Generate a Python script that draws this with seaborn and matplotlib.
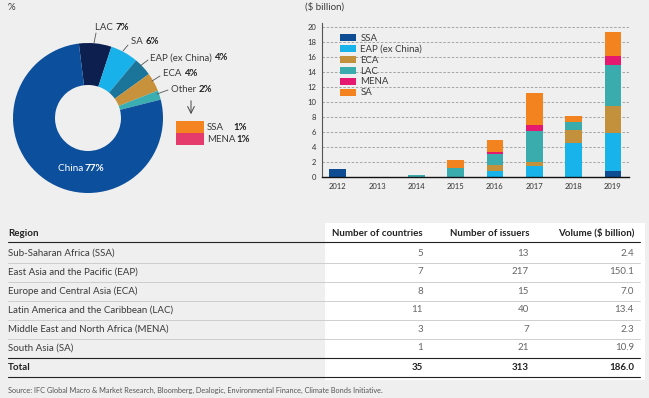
import numpy as np
import pandas as pd
import seaborn as sns
import matplotlib.pyplot as plt
from matplotlib.patches import Patch, Rectangle
from matplotlib.lines import Line2D

# ---- data ----
pie_labels = ["LAC", "SA", "EAP (ex China)", "ECA", "Other", "China"]
pie_values = [7, 6, 4, 4, 2, 77]
pie_colors = ["#0c1f4f", "#18b1e9", "#1b7499", "#c8913b", "#3aaeb1", "#0b4f9d"]
other_labels = ["SSA", "MENA"]
other_values = [1, 1]
other_colors = ["#f3841f", "#e43a6c"]

years = [2012, 2013, 2014, 2015, 2016, 2017, 2018, 2019]
ssa = [1.1, 0, 0, 0, 0, 0, 0, 0.8]
eap = [0, 0, 0, 0, 0.8, 1.45, 4.6, 5.1]
eca = [0, 0, 0, 0, 0.75, 0.55, 1.7, 3.6]
lac = [0, 0, 0.3, 1.15, 1.55, 4.15, 1.0, 5.45]
mena = [0, 0, 0, 0, 0.2, 0.75, 0, 1.2]
sa = [0, 0, 0, 1.15, 1.6, 4.3, 0.8, 3.2]
bar_regions = ["SSA", "EAP (ex China)", "ECA", "LAC", "MENA", "SA"]
bar_colors = ["#0e4d94", "#17b3ea", "#c3913c", "#3aacae", "#e5196f", "#f3831f"]

tbl_regions = ["Sub-Saharan Africa (SSA)", "East Asia and the Pacific (EAP)",
               "Europe and Central Asia (ECA)", "Latin America and the Caribbean (LAC)",
               "Middle East and North Africa (MENA)", "South Asia (SA)"]
n_countries = [5, 7, 8, 11, 3, 1]
n_issuers = [13, 217, 15, 40, 7, 21]
volume = [2.4, 150.1, 7.0, 13.4, 2.3, 10.9]
totals = ["35", "313", "186.0"]
tbl_header = ["Region", "Number of countries", "Number of issuers", "Volume ($ billion)"]

BG = "#efefef"
TXT = "#3a3a3a"
W, H = 649, 398
FS = 7.0

sns.set_theme(style="white")
plt.rcParams['font.family'] = ['Lato', 'DejaVu Sans']

fig = plt.figure(figsize=(W / 100, H / 100), dpi=100)
fig.patch.set_facecolor(BG)


def fx(x):
    return x / W


def fy(y):
    return 1 - y / H


# ---- donut ----
ax1 = fig.add_axes([fx(13), fy(193), 150 / W, 150 / H])
ax1.pie(pie_values, colors=pie_colors, startangle=97, counterclock=False,
        wedgeprops=dict(width=0.56, edgecolor="none"))
ax1.set_xlim(-1, 1)
ax1.set_ylim(-1, 1)
ax1.set_aspect("equal")
ax1.axis("off")

fig.text(fx(8), fy(8), "%", fontsize=7, color=TXT, va="center")

lab_pos = [(95, 27), (131, 42), (150, 58), (163, 74), (171, 89)]
lead = [((94, 43), (96, 33)), ((123, 51), (128, 45)), ((140, 66), (148, 60)),
        ((152, 81), (160, 76)), ((157, 94), (168, 90))]
for i in range(5):
    x, y = lab_pos[i]
    t = fig.text(fx(x), fy(y), pie_labels[i] + " ", fontsize=6.9, color=TXT, va="center")
    fig.canvas.draw()
    bb = t.get_window_extent()
    fig.text(bb.x1 / W, fy(y), f"{pie_values[i]}%", fontsize=6.9, color="#222222",
             fontweight="bold", va="center")
    (a, b), (c, d) = lead[i]
    fig.add_artist(Line2D([fx(a), fx(c)], [fy(b), fy(d)], color="#555555", lw=0.6))

fig.text(fx(58), fy(168), "China ", fontsize=7.2, color="white", va="center")
fig.text(fx(85), fy(168), f"{pie_values[5]}%", fontsize=7.2, color="white",
         fontweight="bold", va="center")

# arrow to the "Other" breakdown
fig.add_artist(plt.Annotation("", xy=(fx(191), fy(117)), xytext=(fx(191), fy(98)),
                              xycoords="figure fraction", textcoords="figure fraction",
                              arrowprops=dict(arrowstyle="->", color="#444444", lw=0.7)))
for i in range(2):
    y0 = 121 + i * 12
    fig.add_artist(Rectangle((fx(176), fy(y0 + 12)), 28 / W, 12 / H,
                             color=other_colors[i], lw=0))
    fig.text(fx(207), fy(y0 + 6), other_labels[i], fontsize=6.9, color=TXT, va="center")
    fig.text(fx(233 if i == 0 else 236), fy(y0 + 6), f"{other_values[i]}%", fontsize=6.9,
             color="#222222", fontweight="bold", va="center")

# ---- stacked bars ----
ax2 = fig.add_axes([fx(322), fy(177), (629 - 322) / W, (177 - 23) / H])
ax2.set_facecolor(BG)
series = [ssa, eap, eca, lac, mena, sa]
df = pd.DataFrame({
    "year": years * len(bar_regions),
    "region": [r for r in bar_regions for _ in years],
    "value": [v for s in series for v in s],
})
sns.histplot(data=df, x="year", weights="value", hue="region",
             hue_order=bar_regions[::-1], palette=dict(zip(bar_regions, bar_colors)),
             multiple="stack", discrete=True, shrink=0.42, linewidth=0, alpha=1,
             legend=False, ax=ax2)
ax2.set_xlim(2011.6, 2019.41)
ax2.set_ylim(0, 20.56)
ax2.set_yticks(range(0, 21, 2))
ax2.set_xticks(years)
ax2.tick_params(axis="both", labelsize=5.5, colors="#333333", length=0, pad=4)
ax2.set_xlabel("")
ax2.set_ylabel("")
for y in range(2, 21, 2):
    ax2.axhline(y, color="#9a9a9a", lw=0.6, ls=(0, (3, 2)), zorder=0)
for s in ["top", "right"]:
    ax2.spines[s].set_visible(False)
ax2.spines["left"].set_color("#555555")
ax2.spines["left"].set_linewidth(0.8)
ax2.spines["bottom"].set_color("#111111")
ax2.spines["bottom"].set_linewidth(1.0)
ax2.grid(False)
handles = [Patch(color=c, lw=0) for c in bar_colors]
ax2.legend(handles, bar_regions, loc="upper left", bbox_to_anchor=(fx(335), fy(29)),
           bbox_transform=fig.transFigure, frameon=False, fontsize=6.9,
           handlelength=1.7, handleheight=0.75, labelspacing=0.2, handletextpad=0.45,
           borderpad=0, labelcolor=TXT)
fig.text(fx(305), fy(7), "($ billion)", fontsize=7, color=TXT, va="center")

# ---- table ----
fig.add_artist(Rectangle((fx(325), fy(380)), (645 - 325) / W, (380 - 223) / H,
                         color="white", lw=0, zorder=0))
col_x = [8, 423, 529, 634]
fig.text(fx(col_x[0]), fy(233), tbl_header[0], fontsize=FS, fontweight="bold",
         color="#222222", va="center")
for j in range(1, 4):
    fig.text(fx(col_x[j]), fy(233), tbl_header[j], fontsize=FS, fontweight="bold",
             color="#222222", va="center", ha="right")
fig.add_artist(Line2D([fx(8), fx(640)], [fy(242), fy(242)], color="#222222", lw=0.8))

row_y = [253 + 19 * i for i in range(7)]
for i, r in enumerate(tbl_regions):
    y = row_y[i]
    fig.text(fx(col_x[0]), fy(y), r, fontsize=FS, color=TXT, va="center")
    vals = [str(n_countries[i]), str(n_issuers[i]), f"{volume[i]:.1f}"]
    for j in range(3):
        fig.text(fx(col_x[j + 1]), fy(y), vals[j], fontsize=FS, color="#666666",
                 va="center", ha="right")
    ly = y + 9.5
    fig.add_artist(Line2D([fx(8), fx(640)], [fy(ly), fy(ly)],
                          color="#222222" if i == 5 else "#c8c8c8",
                          lw=0.8 if i == 5 else 0.6))
yt = row_y[6]
fig.text(fx(col_x[0]), fy(yt), "Total", fontsize=FS, fontweight="bold", color="#222222",
         va="center")
for j in range(3):
    fig.text(fx(col_x[j + 1]), fy(yt), totals[j], fontsize=FS, fontweight="bold",
             color="#222222", va="center", ha="right")
fig.add_artist(Line2D([fx(8), fx(640)], [fy(yt + 9.5), fy(yt + 9.5)], color="#222222", lw=0.8))

fig.text(fx(8), fy(390), "Source: IFC Global Macro & Market Research, Bloomberg, Dealogic, "
         "Environmental Finance, Climate Bonds Initiative.", fontsize=5.3, color="#555555",
         va="center")

fig.savefig("out.png", dpi=100, facecolor=BG)
